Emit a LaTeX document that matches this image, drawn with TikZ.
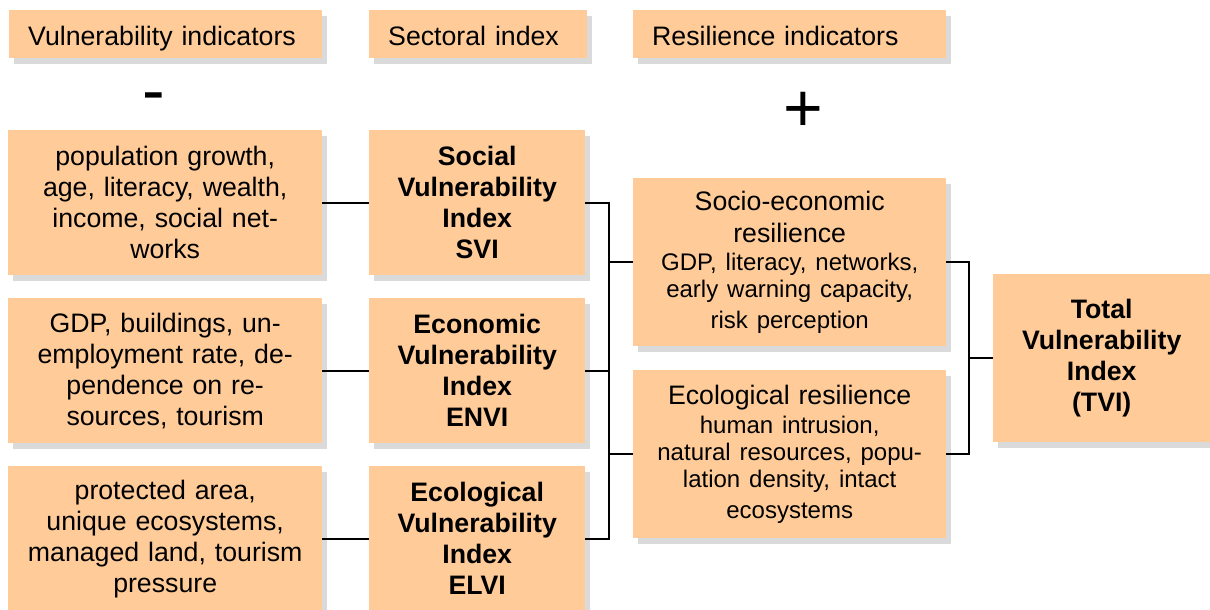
\documentclass[tikz,border=0pt]{standalone}
\usepackage{fontspec}
\setmainfont{Liberation Sans}
\usetikzlibrary{shadows}
\definecolor{boxfill}{RGB}{255,204,153}
\definecolor{shadowgray}{RGB}{218,218,218}
\newcommand\boxfont{\fontsize{26.7}{31}\selectfont}
\newcommand\detailfont{\fontsize{24}{27}\selectfont}
\newcommand\signfont{\fontsize{68}{68}\selectfont}

\begin{document}
\begin{tikzpicture}[x=1pt,y=-1pt,
  box/.style={fill=boxfill, inner sep=0pt, align=center, font=\boxfont,
    general shadow={fill=shadowgray, shadow xshift=5pt, shadow yshift=-6pt}},
  hdr/.style={box, align=left, inner xsep=19pt, text height=35pt, text depth=13pt, anchor=north west},
  lbox/.style={box, text width=314pt, minimum height=145pt, anchor=north west},
  mbox/.style={lbox, text width=216pt, font=\boxfont\bfseries},
  rbox/.style={box, text width=313pt, minimum height=168pt, anchor=north west},
  link/.style={line width=1.6pt}]
\useasboundingbox (0,0) rectangle (1210,610);

% column heads
\node[hdr, text width=275pt] (hvul) at (9,10) {Vulnerability indicators};
\node[hdr, text width=180pt] (hsec) at (369,10) {Sectoral index};
\node[hdr, text width=275pt] (hres) at (633,10) {Resilience indicators};

\node[font=\signfont] (minus) at (154,103) {-};
\node[font=\signfont] (plus) at (803,112) {+};

% vulnerability indicators
\node[lbox] (vi1) at (8,130) {population growth,\\age, literacy, wealth,\\income, social net-\\works};
\node[lbox] (vi2) at (8,298) {GDP, buildings, un-\\employment rate, de-\\pendence on re-\\sources, tourism};
\node[lbox] (vi3) at (8,466) {protected area,\\unique ecosystems,\\managed land, tourism\\pressure};

% sectoral indices
\node[mbox] (svi) at (369,130) {Social\\Vulnerability\\Index\\SVI};
\node[mbox] (envi) at (369,298) {Economic\\Vulnerability\\Index\\ENVI};
\node[mbox] (elvi) at (369,466) {Ecological\\Vulnerability\\Index\\ELVI};

% resilience
\node[rbox] (socres) at (633,178) {Socio-economic\\[1pt]resilience\\[1pt]\detailfont GDP, literacy, networks,\\early warning capacity,\\risk perception};
\node[rbox] (ecores) at (633,370) {Ecological resilience\\[2pt]\detailfont human intrusion,\\natural resources, popu-\\lation density, intact\\ecosystems};

\node[rbox, text width=217pt, font=\boxfont\bfseries] (tvi) at (993,274) {Total\\Vulnerability\\Index\\(TVI)};

\coordinate (jl) at (609,0);
\coordinate (jr) at (969,0);

\draw[link] (vi1.east) -- (svi.west);
\draw[link] (vi2.east) -- (envi.west);
\draw[link] (vi3.east) -- (elvi.west);

\draw[link] (svi.east) -- (svi.east -| jl) -- (elvi.east -| jl) -- (elvi.east);
\draw[link] (envi.east) -- (envi.east -| jl);
\draw[link] (socres.west) -- (socres.west -| jl);
\draw[link] (ecores.west) -- (ecores.west -| jl);

\draw[link] (socres.east) -- (socres.east -| jr) -- (ecores.east -| jr) -- (ecores.east);
\draw[link] (tvi.west) -- (tvi.west -| jr);
\end{tikzpicture}
\end{document}
